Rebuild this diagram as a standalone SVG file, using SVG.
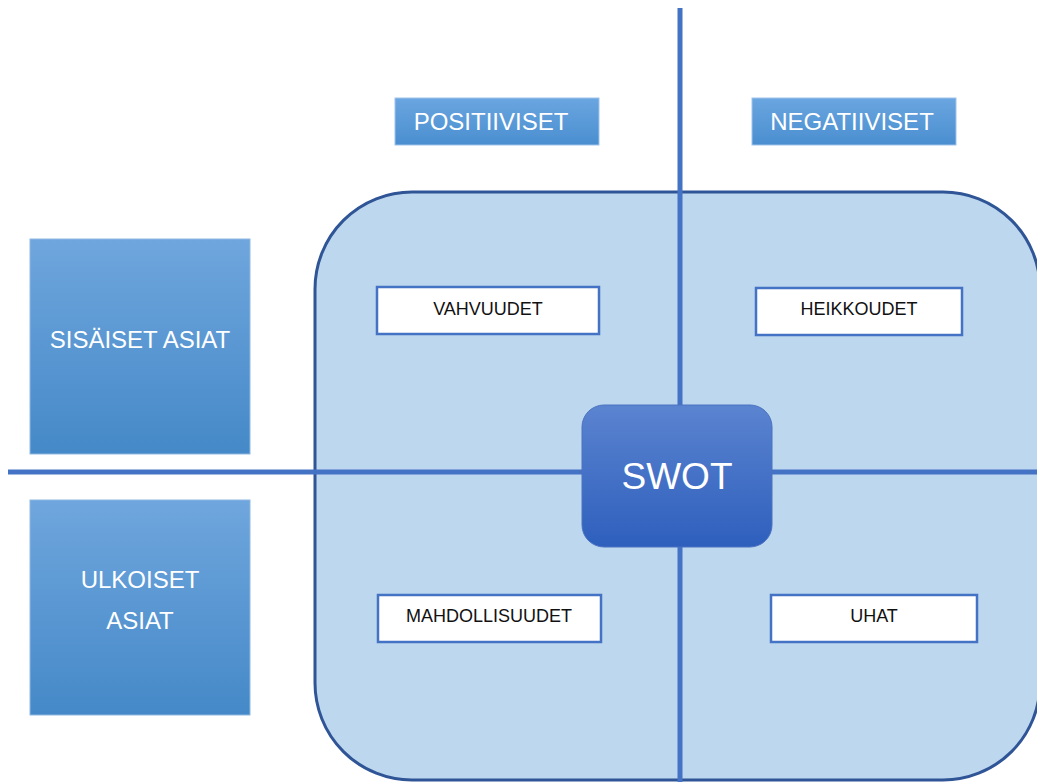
<svg xmlns="http://www.w3.org/2000/svg" width="1037" height="782" viewBox="0 0 1037 782">
<defs>
<linearGradient id="gBlue" x1="0" y1="0" x2="0" y2="1"><stop offset="0" stop-color="#6fa6dd"/><stop offset="1" stop-color="#4589c8"/></linearGradient>
<linearGradient id="gHead" x1="0" y1="0" x2="0" y2="1"><stop offset="0" stop-color="#6aa6e0"/><stop offset="1" stop-color="#4a8ed0"/></linearGradient>
<linearGradient id="gSwot" x1="0" y1="0" x2="0" y2="1"><stop offset="0" stop-color="#5b84d0"/><stop offset="1" stop-color="#2e5fbd"/></linearGradient>
<style>
.side{fill:url(#gBlue);stroke:#8fb8e3;stroke-width:1}
.head{fill:url(#gHead);stroke:#9fc3ea;stroke-width:1}
.wt{font-family:"Liberation Sans",Arial,sans-serif;fill:#fff;text-anchor:middle}
.box{fill:#fff;stroke:#4472c4;stroke-width:2.5}
.bt{font-family:"Liberation Sans",Arial,sans-serif;font-size:18px;fill:#111;text-anchor:middle}
.ln{stroke:#4472c4;stroke-width:5}
</style>
</defs>
<rect width="1037" height="782" fill="#fff"/>
<g id="frame"><rect x="315" y="192" width="725" height="588" rx="97" ry="97" fill="#bdd7ee" stroke="#2f5597" stroke-width="3"/></g>
<g id="connectors">
<line class="ln" x1="680" y1="8" x2="680" y2="782"/>
<line class="ln" x1="8" y1="472" x2="1037" y2="472"/>
</g>
<g id="positiiviset"><rect class="head" x="395" y="98" width="204" height="47"/><text class="wt" x="491" y="130" font-size="24">POSITIIVISET</text></g>
<g id="negatiiviset"><rect class="head" x="752" y="98" width="204" height="47"/><text class="wt" x="852" y="130" font-size="24">NEGATIIVISET</text></g>
<g id="sisaiset"><rect class="side" x="30" y="239" width="220" height="215"/><text class="wt" x="140" y="348" font-size="24">SISÄISET ASIAT</text></g>
<g id="ulkoiset"><rect class="side" x="30" y="500" width="220" height="215"/><text class="wt" x="140" y="588" font-size="24">ULKOISET</text><text class="wt" x="140" y="629" font-size="24">ASIAT</text></g>
<g id="vahvuudet"><rect class="box" x="377" y="287" width="222" height="47"/><text class="bt" x="488" y="315">VAHVUUDET</text></g>
<g id="heikkoudet"><rect class="box" x="756" y="288" width="206" height="47"/><text class="bt" x="859" y="315">HEIKKOUDET</text></g>
<g id="mahdollisuudet"><rect class="box" x="378" y="595" width="223" height="47"/><text class="bt" x="489" y="622">MAHDOLLISUUDET</text></g>
<g id="uhat"><rect class="box" x="771" y="595" width="206" height="47"/><text class="bt" x="874" y="622">UHAT</text></g>
<g id="swot"><rect x="582" y="405" width="190" height="142" rx="22" ry="22" fill="url(#gSwot)" stroke="#4a72c0" stroke-width="1"/><text class="wt" x="677" y="489" font-size="37">SWOT</text></g>
</svg>
